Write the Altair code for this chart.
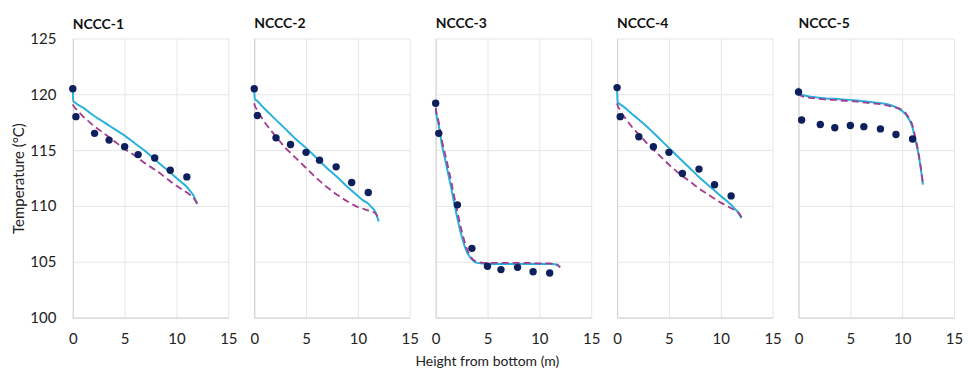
import altair as alt
import pandas as pd

panels = ["NCCC-1", "NCCC-2", "NCCC-3", "NCCC-4", "NCCC-5"]

# measured points (heights shared by all panels)
meas_x = [0, 0.3, 2.1, 3.5, 5.0, 6.3, 7.9, 9.4, 11.0]
meas_1 = [120.5, 118.0, 116.5, 115.9, 115.3, 114.6, 114.3, 113.2, 112.6]
meas_2 = [120.5, 118.1, 116.1, 115.5, 114.8, 114.1, 113.5, 112.1, 111.2]
meas_3 = [119.2, 116.5, 110.1, 106.2, 104.6, 104.3, 104.5, 104.1, 104.0]
meas_4 = [120.6, 118.0, 116.2, 115.3, 114.8, 112.9, 113.3, 111.9, 110.9]
meas_5 = [120.2, 117.7, 117.3, 117.0, 117.2, 117.1, 116.9, 116.4, 116.0]

# model curves (heights shared)
model_x = [0, 0.05, 0.3, 0.6, 1, 1.5, 2, 2.5, 3, 3.5, 4, 5, 6, 7, 8, 9, 10,
           10.5, 11, 11.3, 11.6, 11.8, 12]
solid_1 = [120.3, 119.4, 119.2, 119.0, 118.8, 118.45, 118.1, 117.8, 117.5, 117.2,
           116.9, 116.3, 115.6, 114.9, 114.1, 113.3, 112.5, 112.1, 111.7, 111.35,
           111.0, 110.6, 110.2]
dash_1 = [119.1, 119.0, 118.7, 118.4, 118.0, 117.6, 117.2, 116.85, 116.5, 116.15,
          115.8, 115.1, 114.5, 113.8, 113.2, 112.5, 111.8, 111.5, 111.2, 111.0,
          110.8, 110.5, 110.2]
solid_2 = [120.3, 119.6, 119.4, 119.1, 118.7, 118.25, 117.8, 117.35, 116.9, 116.45,
           116.0, 115.2, 114.3, 113.4, 112.6, 111.7, 110.9, 110.5, 110.2, 109.9,
           109.6, 109.2, 108.6]
dash_2 = [119.2, 119.0, 118.6, 118.1, 117.5, 116.9, 116.3, 115.75, 115.2, 114.75,
          114.3, 113.4, 112.5, 111.7, 111.0, 110.4, 109.9, 109.75, 109.6, 109.5,
          109.4, 109.2, 108.8]
solid_3 = [118.6, 118.3, 117.2, 115.5, 113.8, 111.6, 109.3, 107.3, 105.9, 105.2,
           104.9, 104.8, 104.8, 104.8, 104.8, 104.8, 104.8, 104.8, 104.8, 104.8,
           104.75, 104.65, 104.5]
dash_3 = [118.8, 118.5, 117.5, 115.9, 114.3, 112.2, 109.9, 107.8, 106.2, 105.3,
          105.0, 104.9, 104.9, 104.9, 104.9, 104.9, 104.85, 104.85, 104.85, 104.8,
          104.8, 104.7, 104.5]
solid_4 = [120.5, 119.3, 119.1, 118.9, 118.6, 118.2, 117.8, 117.4, 117.0, 116.55,
           116.1, 115.2, 114.3, 113.4, 112.5, 111.7, 110.9, 110.5, 110.1, 109.8,
           109.5, 109.2, 108.9]
dash_4 = [119.2, 119.0, 118.6, 118.1, 117.6, 117.0, 116.5, 116.0, 115.5, 115.05,
          114.6, 113.7, 112.9, 112.2, 111.5, 110.9, 110.3, 110.05, 109.8, 109.65,
          109.5, 109.3, 109.0]
solid_5 = [120.6, 120.0, 119.95, 119.9, 119.8, 119.75, 119.7, 119.65, 119.6, 119.6,
           119.55, 119.5, 119.4, 119.3, 119.2, 119.0, 118.5, 118.0, 117.0, 115.8,
           114.5, 113.3, 111.9]
dash_5 = [120.1, 120.0, 119.85, 119.75, 119.7, 119.65, 119.6, 119.55, 119.5, 119.5,
          119.45, 119.4, 119.3, 119.2, 119.1, 118.9, 118.6, 118.1, 117.2, 116.0,
          114.6, 113.4, 112.0]

meas_all = [meas_1, meas_2, meas_3, meas_4, meas_5]
solid_all = [solid_1, solid_2, solid_3, solid_4, solid_5]
dash_all = [dash_1, dash_2, dash_3, dash_4, dash_5]

FONT = "Lato"
W, H = 156, 280
GRID = "#e6e6e6"
DOMAIN = "#d0d0d0"

xscale = alt.Scale(domain=[0, 15], nice=False)
yscale = alt.Scale(domain=[100, 125], nice=False, zero=False)


def make_panel(i):
    name = panels[i]
    dm = pd.DataFrame({"x": meas_x, "y": meas_all[i]})
    ds = pd.DataFrame({"x": model_x, "y": solid_all[i]})
    dd = pd.DataFrame({"x": model_x, "y": dash_all[i]})
    first = i == 0
    xax = alt.Axis(values=[0, 5, 10, 15], title=None, ticks=False, labelPadding=14,
                   labelFlush=False, labelFontSize=15, labelColor="#222",
                   gridColor=GRID, domainColor=DOMAIN, labelFont=FONT)
    if first:
        yax = alt.Axis(values=[100, 105, 110, 115, 120, 125], title="Temperature (°C)",
                       ticks=False, labelPadding=17, labelFontSize=15,
                       labelColor="#222", gridColor=GRID, domainColor=DOMAIN,
                       titleFontSize=15, titleFontWeight="normal", titleColor="#222",
                       titlePadding=3, labelFont=FONT, titleFont=FONT)
    else:
        yax = alt.Axis(values=[100, 105, 110, 115, 120, 125], title=None,
                       labels=False, ticks=False, gridColor=GRID, domainColor=DOMAIN)
    X = alt.X("x:Q", scale=xscale, axis=xax)
    Y = alt.Y("y:Q", scale=yscale, axis=yax)
    solid = alt.Chart(ds).mark_line(color="#27b1dd", strokeWidth=2,
                                    interpolate="monotone").encode(x=X, y=Y)
    dashed = alt.Chart(dd).mark_line(color="#a23d8e", strokeWidth=1.8,
                                     strokeDash=[7, 4],
                                     interpolate="monotone").encode(x=X, y=Y)
    dots = alt.Chart(dm).mark_circle(color="#0d1f5c", opacity=1, size=55).encode(x=X, y=Y)
    title_kw = dict(anchor="start", frame="group", fontSize=14, fontWeight="bold",
                    color="#111", font=FONT, offset=8)
    if first:
        title_kw["dy"] = 8
    return alt.layer(solid, dashed, dots).properties(
        width=W, height=H, title=alt.TitleParams(name, **title_kw),
    )


chart = alt.hconcat(*[make_panel(i) for i in range(5)], spacing=12).properties(
    padding={"left": 3, "top": 8, "right": 0, "bottom": 0},
    title=alt.TitleParams("Height from bottom (m)", orient="bottom", anchor="middle",
                          fontSize=14, fontWeight="normal", color="#222", font=FONT,
                          offset=9),
).configure_view(stroke=None)

chart.save("out.html", embed_options={"renderer": "svg", "actions": False})
